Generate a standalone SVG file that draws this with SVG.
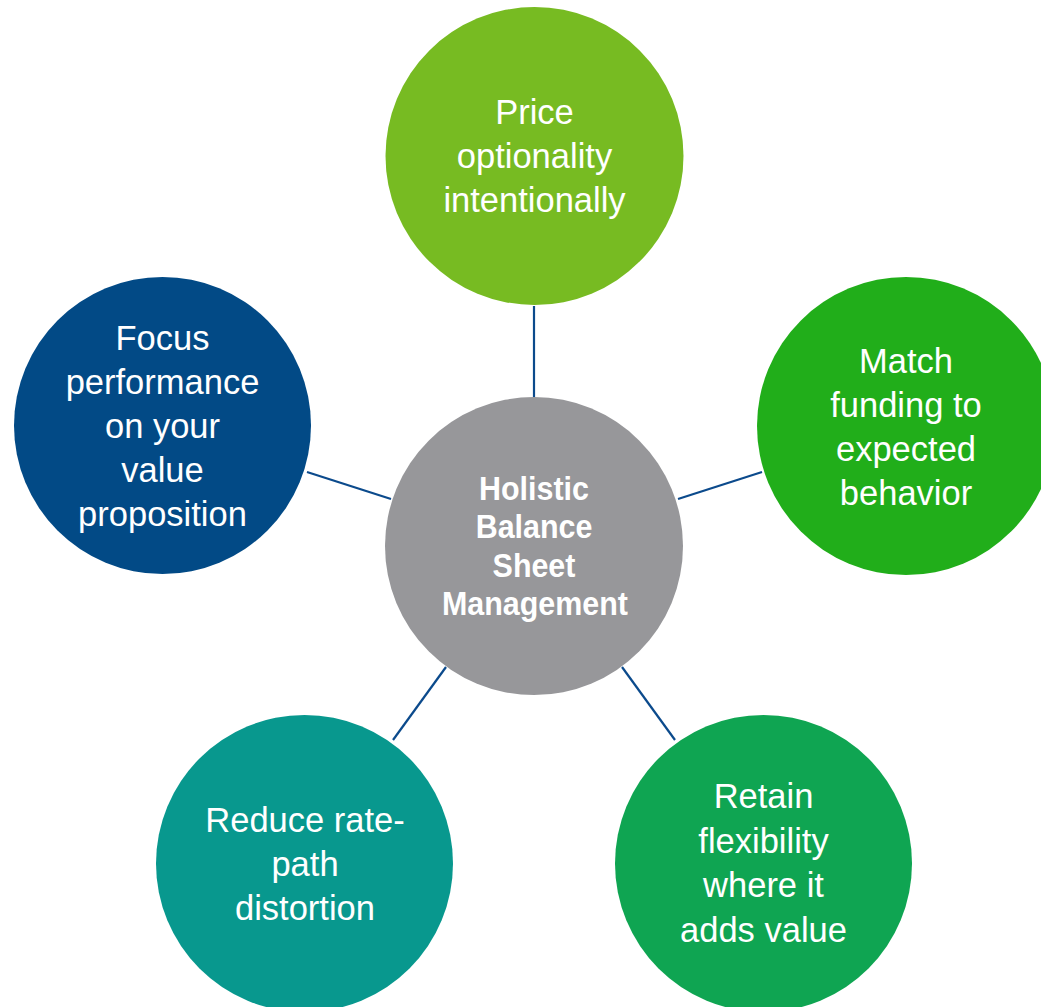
<svg xmlns="http://www.w3.org/2000/svg" width="1041" height="1007" viewBox="0 0 1041 1007">
  <style>
    .link { stroke: #0B4A8C; stroke-width: 2.2; fill: none; }
    .lbl { font-family: "Liberation Sans", Arial, sans-serif; font-size: 34.5px; fill: #ffffff; text-anchor: middle; }
    .hub { font-family: "Liberation Sans", Arial, sans-serif; font-size: 34px; font-weight: bold; fill: #ffffff; text-anchor: middle; }
  </style>
  <rect width="1041" height="1007" fill="#ffffff"/>

  <!-- spokes from the hub to each outer circle -->
  <g id="connectors">
    <line class="link" x1="534" y1="306" x2="534" y2="398"/>
    <line class="link" x1="678" y1="499" x2="762" y2="472"/>
    <line class="link" x1="307" y1="472" x2="391" y2="499"/>
    <line class="link" x1="622" y1="667" x2="675" y2="740"/>
    <line class="link" x1="446" y1="667" x2="393" y2="740"/>
  </g>

  <g id="hub">
    <circle cx="534" cy="546" r="149" fill="#97979A"/>
    <g transform="translate(534,0) scale(0.895,1)">
      <text class="hub" x="0" y="500">Holistic</text>
      <text class="hub" x="0" y="538">Balance</text>
      <text class="hub" x="0" y="577">Sheet</text>
      <text class="hub" x="1" y="615">Management</text>
    </g>
  </g>

  <g id="price">
    <circle cx="534.5" cy="156" r="149" fill="#77BB22"/>
    <text class="lbl" x="534.5" y="124">Price</text>
    <text class="lbl" x="534.5" y="168">optionality</text>
    <text class="lbl" x="534.5" y="212">intentionally</text>
  </g>

  <g id="funding">
    <circle cx="906" cy="426" r="149" fill="#21AE1A"/>
    <text class="lbl" x="906" y="373">Match</text>
    <text class="lbl" x="906" y="417">funding to</text>
    <text class="lbl" x="906" y="461">expected</text>
    <text class="lbl" x="906" y="505">behavior</text>
  </g>

  <g id="focus">
    <circle cx="162.5" cy="425.5" r="148.5" fill="#024A86"/>
    <text class="lbl" x="162.5" y="350">Focus</text>
    <text class="lbl" x="162.5" y="394">performance</text>
    <text class="lbl" x="162.5" y="438">on your</text>
    <text class="lbl" x="162.5" y="482">value</text>
    <text class="lbl" x="162.5" y="526">proposition</text>
  </g>

  <g id="flexibility">
    <circle cx="763.5" cy="863.5" r="148.5" fill="#0FA552"/>
    <text class="lbl" x="763.5" y="808">Retain</text>
    <text class="lbl" x="763.5" y="853">flexibility</text>
    <text class="lbl" x="763.5" y="897">where it</text>
    <text class="lbl" x="763.5" y="942">adds value</text>
  </g>

  <g id="ratepath">
    <circle cx="304.5" cy="863.5" r="148.5" fill="#08988E"/>
    <text class="lbl" x="305" y="832">Reduce rate-</text>
    <text class="lbl" x="305" y="876">path</text>
    <text class="lbl" x="305" y="920">distortion</text>
  </g>
</svg>
